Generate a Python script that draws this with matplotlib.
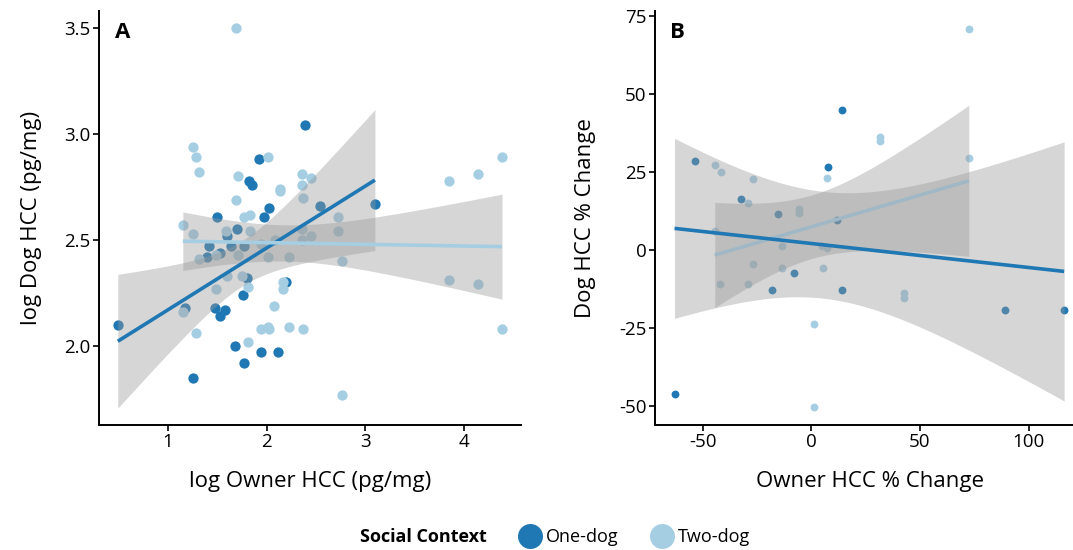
import numpy as np
import matplotlib
matplotlib.use("Agg")
import matplotlib.pyplot as plt
from matplotlib.lines import Line2D

plt.rcParams["font.family"] = ["Open Sans", "DejaVu Sans"]
plt.rcParams["axes.unicode_minus"] = False

DARK = "#1f78b4"
LIGHT = "#a6cee3"

# ---- Panel A: log owner HCC vs log dog HCC
a_one_x = [0.49, 1.25, 1.17, 1.48, 1.58, 1.53, 1.68, 1.77, 1.94, 2.12, 1.76, 1.80, 2.20, 1.40, 1.53,
           1.42, 1.64, 1.77, 1.60, 1.70, 1.50, 1.97, 2.02, 2.54, 3.10, 1.82, 1.85, 1.92, 2.39]
a_one_y = [2.10, 1.85, 2.18, 2.18, 2.17, 2.14, 2.00, 1.92, 1.97, 1.97, 2.24, 2.32, 2.30, 2.42, 2.44,
           2.47, 2.47, 2.47, 2.52, 2.55, 2.61, 2.61, 2.65, 2.66, 2.67, 2.78, 2.76, 2.88, 3.04]
a_two_x = [1.69, 1.25, 1.28, 1.31, 2.01, 1.71, 2.14, 2.14, 2.36, 2.45, 2.36, 2.37, 1.69, 1.77, 1.83,
           2.73, 1.15, 1.25, 1.59, 1.83, 2.36, 2.73, 2.45, 2.36, 2.09, 1.94, 1.49, 1.31, 1.71, 2.01,
           2.23, 2.77, 1.60, 1.75, 1.81, 2.17, 2.17, 1.49, 2.08, 1.15, 1.28, 1.81, 1.94, 2.01, 2.02,
           2.23, 2.37, 2.77, 3.85, 4.15, 4.39, 3.85, 4.15, 4.39]
a_two_y = [3.50, 2.94, 2.89, 2.82, 2.89, 2.80, 2.74, 2.73, 2.81, 2.79, 2.76, 2.70, 2.69, 2.61, 2.62,
           2.61, 2.57, 2.53, 2.54, 2.54, 2.55, 2.54, 2.52, 2.50, 2.50, 2.48, 2.43, 2.41, 2.43, 2.42,
           2.42, 2.40, 2.33, 2.33, 2.28, 2.27, 2.30, 2.27, 2.19, 2.16, 2.06, 2.02, 2.08, 2.09, 2.08,
           2.09, 2.08, 1.77, 2.78, 2.81, 2.89, 2.31, 2.29, 2.08]

# ---- Panel B: owner HCC % change vs dog HCC % change
b_one_x = [-63.0, -53.6, -32.3, -18.3, -15.5, -7.8, 7.7, 11.8, 14.2, 14.0, 89.3, 116.4]
b_one_y = [-46.1, 28.6, 16.4, -12.6, 11.4, -7.2, 26.7, 9.5, 44.9, -12.6, -19.2, -19.2]
b_two_x = [-44.5, -41.7, -26.7, -29.2, -5.8, -5.8, 7.4, -44.5, -13.7, -26.7, -13.7, 5.3, -42.0,
           -29.2, 1.4, 1.4, 5.1, 7.4, 31.4, 31.4, 72.5, 72.5, 42.6, 42.6]
b_two_y = [27.3, 25.1, 22.8, 15.1, 13.0, 11.8, 23.1, 6.2, 1.3, -4.4, -5.8, -5.8, -10.9, -10.9,
           -23.5, -50.1, 1.3, 0.8, 36.1, 34.8, 70.7, 29.4, -13.8, -15.2]


def t_quantile(df, z=1.959964):
    # Cornish-Fisher style expansion of the 97.5% t quantile
    return (z + (z**3 + z) / (4 * df) + (5 * z**5 + 16 * z**3 + 3 * z) / (96 * df**2)
            + (3 * z**7 + 19 * z**5 + 17 * z**3 - 15 * z) / (384 * df**3))


def lm_fit(x, y, num=100):
    x = np.asarray(x, float)
    y = np.asarray(y, float)
    n = len(x)
    slope, icpt = np.polyfit(x, y, 1)
    resid = y - (slope * x + icpt)
    s = np.sqrt(np.sum(resid**2) / (n - 2))
    sxx = np.sum((x - x.mean())**2)
    xg = np.linspace(x.min(), x.max(), num)
    yg = slope * xg + icpt
    se = s * np.sqrt(1.0 / n + (xg - x.mean())**2 / sxx)
    t = t_quantile(n - 2)
    return xg, yg, yg - t * se, yg + t * se


def style_axes(ax):
    for side in ["top", "right"]:
        ax.spines[side].set_visible(False)
    for side in ["left", "bottom"]:
        ax.spines[side].set_linewidth(1.4)
        ax.spines[side].set_color("black")
    ax.tick_params(axis="both", length=4, width=1.2, colors="black", labelsize=13.5, pad=2)


fig = plt.figure(figsize=(10.73, 5.5), dpi=100)
W, H = 1073.0, 550.0

# ---------------- Panel A
axA = fig.add_axes([98.6 / W, 125 / H, 422.6 / W, 414 / H])
axA.scatter(a_one_x, a_one_y, s=55, color=DARK, linewidths=0, zorder=2)
axA.scatter(a_two_x, a_two_y, s=55, color=LIGHT, linewidths=0, zorder=2)
fits_a = []
for xs, ys, col in [(a_one_x, a_one_y, DARK), (a_two_x, a_two_y, LIGHT)]:
    xg, yg, lo, hi = lm_fit(xs, ys)
    axA.fill_between(xg, lo, hi, color="#999999", alpha=0.4, linewidth=0, zorder=3)
    fits_a.append((xg, yg, col))
for xg, yg, col in fits_a:
    axA.plot(xg, yg, color=col, linewidth=2.6, zorder=4, solid_capstyle="butt")
axA.set_xlim(0.295, 4.585)
axA.set_ylim(1.627, 3.58)
axA.set_xticks([1, 2, 3, 4])
axA.set_yticks([2.0, 2.5, 3.0, 3.5])
axA.set_yticklabels(["2.0", "2.5", "3.0", "3.5"])
style_axes(axA)
axA.set_xlabel("log Owner HCC (pg/mg)", fontsize=16, labelpad=14)
axA.set_ylabel("log Dog HCC (pg/mg)", fontsize=16, labelpad=16)
axA.text(123, H - 33, "A", transform=None, fontsize=16, fontweight="bold", ha="center", va="center")

# ---------------- Panel B
axB = fig.add_axes([655 / W, 125 / H, 430 / W, 414 / H])
axB.scatter(b_one_x, b_one_y, s=32, color=DARK, linewidths=0, zorder=2)
axB.scatter(b_two_x, b_two_y, s=32, color=LIGHT, linewidths=0, zorder=2)
z = 3
for xs, ys, col in [(b_two_x, b_two_y, LIGHT), (b_one_x, b_one_y, DARK)]:
    xg, yg, lo, hi = lm_fit(xs, ys)
    axB.fill_between(xg, lo, hi, color="#999999", alpha=0.4, linewidth=0, zorder=z)
    axB.plot(xg, yg, color=col, linewidth=2.6, zorder=z + 1, solid_capstyle="butt")
    z += 2
axB.set_xlim(-72, 126)
axB.set_ylim(-55.95, 76.5)
axB.set_xticks([-50, 0, 50, 100])
axB.set_yticks([-50, -25, 0, 25, 50, 75])
style_axes(axB)
axB.set_xlabel("Owner HCC % Change", fontsize=16, labelpad=14)
axB.set_ylabel("Dog HCC % Change", fontsize=16, labelpad=17)
axB.text(677, H - 33, "B", transform=None, fontsize=16, fontweight="bold", ha="center", va="center")

# ---------------- Legend
fig.text(423 / W, 1 - 537 / H, "Social Context", fontsize=13, fontweight="bold",
         ha="center", va="center")
handles = [Line2D([], [], marker="o", linestyle="none", markersize=18, markerfacecolor=DARK,
                  markeredgewidth=0),
           Line2D([], [], marker="o", linestyle="none", markersize=18, markerfacecolor=LIGHT,
                  markeredgewidth=0)]
fig.legend(handles, ["One-dog", "Two-dog"], ncol=2, loc="center left",
           bbox_to_anchor=(508 / W, 1 - 537 / H), frameon=False, fontsize=13,
           handletextpad=0.1, columnspacing=1.6, handlelength=1.6, borderaxespad=0)

fig.savefig("out.png", dpi=100)
